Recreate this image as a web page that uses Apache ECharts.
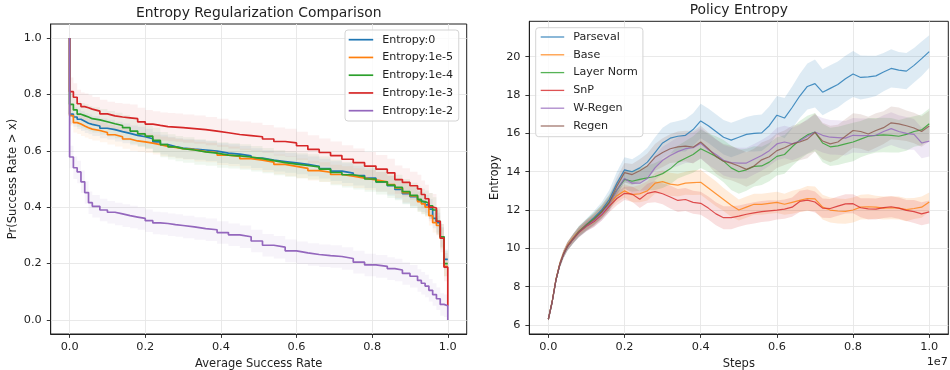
<!DOCTYPE html>
<html>
<head>
<meta charset="utf-8">
<script src="https://cdn.jsdelivr.net/npm/echarts@6/dist/echarts.min.js"></script>
<style>
  html, body { margin: 0; padding: 0; background: #ffffff; }
  #chart { width: 950px; height: 370px; }
</style>
</head>
<body>
<div id="chart"></div>
<script>
// ---------- Left panel: Pr(success rate > x) per entropy coefficient ----------
const SUCCESS_X = [0, 0, 0.01, 0.02, 0.03, 0.04, 0.05, 0.06, 0.08, 0.10,
  0.12, 0.14, 0.16, 0.18, 0.20, 0.22, 0.24, 0.26, 0.28, 0.30,
  0.33, 0.36, 0.39, 0.42, 0.45, 0.48, 0.51, 0.54, 0.57, 0.60,
  0.63, 0.66, 0.69, 0.72, 0.75, 0.78, 0.81, 0.84, 0.86, 0.88,
  0.90, 0.92, 0.93, 0.94, 0.95, 0.96, 0.97, 0.98, 0.99, 1.0];

const ENTROPY_0 = [1.0, 0.73, 0.72, 0.712, 0.705, 0.698, 0.694, 0.688, 0.68, 0.675,
  0.668, 0.662, 0.655, 0.65, 0.643, 0.632, 0.622, 0.615, 0.61, 0.606,
  0.603, 0.599, 0.592, 0.588, 0.582, 0.574, 0.567, 0.562, 0.557, 0.552,
  0.545, 0.537, 0.528, 0.521, 0.512, 0.503, 0.49, 0.476, 0.463, 0.448,
  0.437, 0.423, 0.418, 0.408, 0.393, 0.36, 0.345, 0.295, 0.215, 0.215];

const ENTROPY_1E5 = [1.0, 0.725, 0.7, 0.695, 0.688, 0.682, 0.677, 0.672, 0.665, 0.657,
  0.65, 0.642, 0.635, 0.632, 0.627, 0.622, 0.616, 0.612, 0.608, 0.604,
  0.597, 0.594, 0.585, 0.58, 0.572, 0.567, 0.56, 0.552, 0.545, 0.538,
  0.53, 0.524, 0.516, 0.51, 0.503, 0.497, 0.49, 0.48, 0.468, 0.452,
  0.44, 0.42, 0.412, 0.4, 0.37, 0.345, 0.335, 0.29, 0.19, 0.19];

const ENTROPY_1E4 = [1.0, 0.765, 0.745, 0.73, 0.725, 0.72, 0.714, 0.71, 0.703, 0.696,
  0.69, 0.682, 0.67, 0.66, 0.652, 0.637, 0.622, 0.614, 0.608, 0.603,
  0.596, 0.592, 0.585, 0.582, 0.578, 0.572, 0.565, 0.558, 0.553, 0.548,
  0.543, 0.535, 0.523, 0.515, 0.508, 0.5, 0.49, 0.478, 0.47, 0.455,
  0.442, 0.428, 0.42, 0.414, 0.405, 0.39, 0.35, 0.295, 0.2, 0.2];

const ENTROPY_1E3 = [1.0, 0.81, 0.79, 0.767, 0.757, 0.753, 0.748, 0.741, 0.731, 0.724,
  0.72, 0.717, 0.714, 0.703, 0.695, 0.69, 0.686, 0.684, 0.682, 0.679,
  0.675, 0.67, 0.664, 0.658, 0.654, 0.65, 0.642, 0.633, 0.628, 0.618,
  0.605, 0.594, 0.583, 0.57, 0.558, 0.546, 0.535, 0.522, 0.498, 0.488,
  0.476, 0.465, 0.445, 0.43, 0.4, 0.397, 0.35, 0.29, 0.187, 0.05];

const ENTROPY_1E2 = [1.0, 0.578, 0.54, 0.525, 0.49, 0.452, 0.416, 0.403, 0.39, 0.382,
  0.376, 0.37, 0.365, 0.36, 0.352, 0.344, 0.342, 0.338, 0.335, 0.33,
  0.324, 0.32, 0.31, 0.302, 0.295, 0.28, 0.265, 0.258, 0.245, 0.238,
  0.232, 0.228, 0.225, 0.218, 0.205, 0.195, 0.19, 0.182, 0.177, 0.165,
  0.155, 0.14, 0.13, 0.12, 0.105, 0.09, 0.075, 0.055, 0.05, 0.0];

const ENTROPY_LABELS = ['Entropy:0', 'Entropy:1e-5', 'Entropy:1e-4', 'Entropy:1e-3', 'Entropy:1e-2'];
// half-width of the shaded spread around each curve
const ENTROPY_SPREAD = [0.035, 0.035, 0.045, 0.05, 0.04];

const SUCCESS_TICKS = [0, 0.2, 0.4, 0.6, 0.8, 1.0];
const PROB_TICKS = [0, 0.2, 0.4, 0.6, 0.8, 1.0];

// ---------- Right panel: policy entropy over training ----------
const STEPS_M = [0, 0.1, 0.2, 0.3, 0.4, 0.5, 0.65, 0.8, 1.0, 1.2, 1.4, 1.6, 1.8,
  2.0, 2.2, 2.4, 2.6, 2.8, 3.0, 3.2, 3.4, 3.6, 3.8,
  4.0, 4.2, 4.4, 4.6, 4.8, 5.0, 5.2, 5.4, 5.6, 5.8,
  6.0, 6.2, 6.4, 6.6, 6.8, 7.0, 7.2, 7.4, 7.6, 7.8,
  8.0, 8.2, 8.4, 8.6, 8.8, 9.0, 9.2, 9.4, 9.6, 9.8, 10.0];

const PARSEVAL = [6.3, 7.2, 8.35, 9.15, 9.7, 10.1, 10.5, 10.88, 11.25, 11.6, 12.0, 12.55, 13.4,
  14.1, 14.0, 14.2, 14.5, 15.0, 15.5, 15.75, 15.85, 15.9, 16.2,
  16.65, 16.4, 16.1, 15.8, 15.65, 15.8, 15.95, 16.0, 16.03, 16.4,
  16.95, 16.8, 17.35, 17.95, 18.45, 18.6, 18.15, 18.35, 18.55, 18.85,
  19.1, 18.92, 18.95, 19.0, 19.2, 19.39, 19.3, 19.25, 19.55, 19.9, 20.27];

const BASE = [6.3, 7.25, 8.4, 9.2, 9.75, 10.15, 10.55, 10.9, 11.22, 11.5, 11.9, 12.35, 12.75,
  13.0, 12.8, 12.85, 13.0, 13.4, 13.48, 13.35, 13.3, 13.4, 13.43,
  13.45, 13.15, 12.85, 12.55, 12.25, 12.0, 12.15, 12.3, 12.3, 12.35,
  12.4, 12.3, 12.4, 12.5, 12.6, 12.58, 12.15, 12.0, 11.95, 11.93,
  12.0, 12.15, 12.17, 12.15, 12.1, 12.12, 12.1, 12.02, 12.08, 12.15, 12.42];

const LAYER_NORM = [6.3, 7.2, 8.35, 9.15, 9.7, 10.1, 10.5, 10.87, 11.22, 11.55, 11.9, 12.4, 13.05,
  13.6, 13.5, 13.6, 13.68, 13.75, 13.9, 14.15, 14.5, 14.7, 14.9,
  15.2, 15.0, 14.8, 14.55, 14.2, 14.0, 14.1, 14.28, 14.3, 14.5,
  14.8, 14.9, 15.3, 15.65, 15.92, 16.07, 15.5, 15.3, 15.35, 15.45,
  15.55, 15.7, 15.85, 15.9, 15.92, 15.9, 15.85, 15.95, 16.1, 16.18, 16.5];

const SNP = [6.3, 7.2, 8.35, 9.15, 9.7, 10.1, 10.48, 10.82, 11.15, 11.4, 11.75, 12.2, 12.6,
  12.87, 12.83, 12.56, 12.87, 12.96, 12.85, 12.68, 12.5, 12.55, 12.4,
  12.35, 12.1, 11.8, 11.6, 11.6, 11.68, 11.78, 11.85, 11.92, 11.96,
  12.0, 12.05, 12.15, 12.45, 12.52, 12.42, 12.1, 12.08, 12.2, 12.32,
  12.33, 12.12, 12.06, 12.05, 12.13, 12.17, 12.1, 11.98, 11.92, 11.8, 11.9];

const W_REGEN = [6.3, 7.2, 8.35, 9.15, 9.7, 10.1, 10.5, 10.85, 11.18, 11.45, 11.8, 12.3, 13.05,
  13.65, 13.4, 13.4, 13.65, 14.2, 14.6, 14.85, 15.05, 15.2, 15.25,
  15.48, 15.15, 14.9, 14.6, 14.48, 14.45, 14.45, 14.65, 14.85, 15.1,
  15.45, 15.55, 15.45, 15.6, 15.85, 16.07, 15.9, 15.8, 15.78, 15.75,
  15.9, 15.88, 15.88, 15.9, 16.1, 16.25, 16.1, 16.0, 15.95, 15.5, 15.6];

const REGEN = [6.3, 7.2, 8.35, 9.15, 9.7, 10.1, 10.5, 10.85, 11.2, 11.5, 11.9, 12.4, 13.25,
  13.95, 13.85, 14.05, 14.3, 14.75, 15.0, 15.2, 15.3, 15.34, 15.28,
  15.55, 15.2, 14.8, 14.55, 14.45, 14.3, 14.12, 14.3, 14.62, 14.78,
  15.1, 15.25, 15.45, 15.55, 15.7, 16.05, 15.6, 15.45, 15.55, 15.85,
  16.15, 16.1, 15.97, 16.15, 16.3, 16.55, 16.5, 16.4, 16.28, 16.1, 16.38];

// half-width of the shaded band around each run average
const PARSEVAL_SD = [0.08, 0.12, 0.15, 0.18, 0.2, 0.22, 0.25, 0.28, 0.3, 0.35, 0.4, 0.5, 0.6,
  0.65, 0.65, 0.7, 0.75, 0.8, 0.8, 0.8, 0.8, 0.85, 0.85,
  0.9, 0.9, 0.9, 0.9, 0.9, 0.9, 0.9, 0.95, 0.95, 1.0,
  1.0, 1.05, 1.1, 1.15, 1.2, 1.25, 1.2, 1.2, 1.2, 1.2,
  1.2, 1.15, 1.1, 1.05, 1.0, 1.0, 0.95, 0.95, 0.9, 0.9, 0.85];
const BASE_SD = [0.08, 0.1, 0.12, 0.15, 0.18, 0.2, 0.2, 0.22, 0.25, 0.28, 0.3, 0.32, 0.35,
  0.35, 0.4, 0.45, 0.5, 0.55, 0.6, 0.6, 0.6, 0.6, 0.65,
  0.65, 0.65, 0.65, 0.6, 0.6, 0.55, 0.55, 0.55, 0.55, 0.55,
  0.55, 0.55, 0.6, 0.6, 0.65, 0.65, 0.65, 0.65, 0.65, 0.65,
  0.65, 0.65, 0.65, 0.6, 0.6, 0.6, 0.6, 0.6, 0.55, 0.55, 0.5];
const LAYER_NORM_SD = [0.08, 0.12, 0.15, 0.18, 0.2, 0.22, 0.25, 0.28, 0.3, 0.33, 0.36, 0.4, 0.45,
  0.5, 0.55, 0.6, 0.65, 0.7, 0.75, 0.8, 0.85, 0.9, 0.95,
  1.0, 1.0, 1.05, 1.1, 1.15, 1.15, 1.1, 1.05, 1.0, 1.0,
  1.0, 1.0, 1.0, 1.0, 1.0, 1.0, 1.0, 1.0, 1.0, 1.0,
  1.0, 0.95, 0.95, 0.9, 0.9, 0.9, 0.85, 0.85, 0.8, 0.8, 0.8];
const SNP_SD = [0.08, 0.1, 0.12, 0.15, 0.18, 0.2, 0.2, 0.22, 0.25, 0.28, 0.3, 0.32, 0.35,
  0.35, 0.4, 0.45, 0.5, 0.55, 0.55, 0.6, 0.6, 0.6, 0.6,
  0.6, 0.6, 0.6, 0.6, 0.6, 0.55, 0.55, 0.55, 0.55, 0.55,
  0.5, 0.5, 0.5, 0.55, 0.55, 0.55, 0.5, 0.5, 0.5, 0.5,
  0.5, 0.5, 0.55, 0.55, 0.55, 0.55, 0.55, 0.55, 0.6, 0.6, 0.6];
const W_REGEN_SD = [0.08, 0.12, 0.15, 0.18, 0.2, 0.22, 0.25, 0.28, 0.3, 0.33, 0.36, 0.4, 0.45,
  0.5, 0.55, 0.6, 0.6, 0.65, 0.7, 0.7, 0.75, 0.75, 0.8,
  0.8, 0.8, 0.8, 0.8, 0.8, 0.8, 0.8, 0.8, 0.8, 0.8,
  0.85, 0.85, 0.85, 0.85, 0.9, 0.9, 0.9, 0.9, 0.9, 0.9,
  0.9, 0.9, 0.9, 0.85, 0.85, 0.85, 0.85, 0.85, 0.8, 0.8, 0.8];
const REGEN_SD = [0.08, 0.12, 0.15, 0.18, 0.2, 0.22, 0.25, 0.28, 0.3, 0.33, 0.36, 0.4, 0.45,
  0.5, 0.55, 0.6, 0.65, 0.7, 0.75, 0.75, 0.8, 0.8, 0.85,
  0.85, 0.85, 0.9, 0.9, 0.9, 0.9, 0.9, 0.9, 0.9, 0.9,
  0.9, 0.9, 0.95, 0.95, 1.0, 1.0, 0.95, 0.95, 0.9, 0.9,
  0.9, 0.9, 0.9, 0.9, 0.85, 0.85, 0.85, 0.8, 0.8, 0.8, 0.8];

const METHOD_LABELS = ['Parseval', 'Base', 'Layer Norm', 'SnP', 'W-Regen', 'Regen'];
const STEP_TICKS = [0, 2e6, 4e6, 6e6, 8e6, 1e7];
const ENTROPY_TICKS = [6, 8, 10, 12, 14, 16, 18, 20];

// ---------- styling ----------
const FONT = 'DejaVu Sans';
const INK = '#1f1f1f';
const GRID_LINE = '#e6e6e6';
const TAB = {
  blue: [31, 119, 180], orange: [255, 127, 14], green: [44, 160, 44],
  red: [214, 39, 40], purple: [148, 103, 189], brown: [140, 86, 75]
};
const rgba = (c, a) => `rgba(${c[0]},${c[1]},${c[2]},${a})`;

const LEFT_COLORS = [TAB.blue, TAB.orange, TAB.green, TAB.red, TAB.purple];
const RIGHT_COLORS = [TAB.blue, TAB.orange, TAB.green, TAB.red, TAB.purple, TAB.brown];

// Shaded band drawn as one polygon through the axis scales.
function bandSeries(xs, mean, half, fill, axisIndex, stepped) {
  const upper = [], lower = [];
  for (let i = 0; i < xs.length; i++) {
    const h = Array.isArray(half) ? half[i] : half;
    upper.push([xs[i], mean[i] + h]);
    lower.push([xs[i], mean[i] - h]);
    if (stepped && i < xs.length - 1) {
      upper.push([xs[i + 1], mean[i] + h]);
      lower.push([xs[i + 1], mean[i] - h]);
    }
  }
  const ring = upper.concat(lower.reverse());
  return {
    type: 'custom',
    xAxisIndex: axisIndex,
    yAxisIndex: axisIndex,
    silent: true,
    z: 1,
    data: [[xs[0], mean[0]]],
    renderItem: (params, api) => ({
      type: 'polygon',
      shape: { points: ring.map(p => api.coord(p)) },
      style: { fill: fill }
    })
  };
}

const tickLabel = { fontFamily: FONT, fontSize: 11.3, color: INK };
const axisName = { fontFamily: FONT, fontSize: 11.5, color: INK };

function valueAxis(gridIndex, min, max, ticks, fmt, margin, extra) {
  return Object.assign({
    type: 'value',
    gridIndex: gridIndex,
    min: min,
    max: max,
    axisLine: { show: true, onZero: false, lineStyle: { color: INK, width: 1 } },
    axisTick: { show: true, inside: false, length: 3.9, customValues: ticks, lineStyle: { color: INK, width: 0.9 } },
    axisLabel: Object.assign({ customValues: ticks, formatter: fmt, margin: margin, showMinLabel: true, showMaxLabel: true }, tickLabel),
    splitLine: { show: true, lineStyle: { color: GRID_LINE, width: 0.9 } },
    nameLocation: 'middle',
    nameTextStyle: axisName
  }, extra);
}

const leftData = [ENTROPY_0, ENTROPY_1E5, ENTROPY_1E4, ENTROPY_1E3, ENTROPY_1E2];
const rightData = [PARSEVAL, BASE, LAYER_NORM, SNP, W_REGEN, REGEN];
const rightSpread = [PARSEVAL_SD, BASE_SD, LAYER_NORM_SD, SNP_SD, W_REGEN_SD, REGEN_SD];
const stepsAbs = STEPS_M.map(m => m * 1e6);

const series = [];
leftData.forEach((vals, k) => {
  series.push(bandSeries(SUCCESS_X, vals, ENTROPY_SPREAD[k], rgba(LEFT_COLORS[k], 0.07), 0, true));
});
leftData.forEach((vals, k) => {
  series.push({
    name: ENTROPY_LABELS[k],
    type: 'line',
    xAxisIndex: 0, yAxisIndex: 0,
    step: 'end',
    showSymbol: false,
    z: 3,
    color: rgba(LEFT_COLORS[k], 1),
    lineStyle: { width: 1.7 },
    data: SUCCESS_X.map((x, i) => [x, vals[i]])
  });
});
rightData.forEach((vals, k) => {
  series.push(bandSeries(stepsAbs, vals, rightSpread[k], rgba(RIGHT_COLORS[k], 0.15), 1, false));
});
rightData.forEach((vals, k) => {
  series.push({
    name: METHOD_LABELS[k],
    type: 'line',
    xAxisIndex: 1, yAxisIndex: 1,
    showSymbol: false,
    z: 3,
    color: rgba(RIGHT_COLORS[k], 0.8),
    lineStyle: { width: 1.2 },
    data: stepsAbs.map((x, i) => [x, vals[i]])
  });
});

const legendBase = {
  orient: 'vertical',
  align: 'left',
  icon: 'rect',
  itemHeight: 1.7,
  backgroundColor: 'rgba(255,255,255,0.8)',
  borderColor: '#d4d4d4',
  borderWidth: 1,
  borderRadius: 3,
  textStyle: { fontFamily: FONT, fontSize: 11.1, color: INK, lineHeight: 14, padding: [0, 0, 0, 4] },
  selectedMode: false
};

const titleText = { fontFamily: FONT, fontSize: 13.9, fontWeight: 'normal', color: INK };

const option = {
  animation: false,
  backgroundColor: '#ffffff',
  title: [
    { text: 'Entropy Regularization Comparison', left: 258.7, top: 6.5, textAlign: 'center', padding: 0, textStyle: titleText },
    { text: 'Policy Entropy', left: 738.8, top: 3.5, textAlign: 'center', padding: 0, textStyle: titleText }
  ],
  grid: [
    { left: 50.7, top: 24, width: 416, height: 310, outerBoundsMode: 'none', containLabel: false,
      show: true, borderColor: INK, borderWidth: 1, backgroundColor: 'transparent' },
    { left: 529.3, top: 21.3, width: 419, height: 312.7, outerBoundsMode: 'none', containLabel: false,
      show: true, borderColor: INK, borderWidth: 1, backgroundColor: 'transparent' }
  ],
  xAxis: [
    valueAxis(0, -0.05, 1.05, SUCCESS_TICKS, v => v.toFixed(1), 7.8,
      { name: 'Average Success Rate', nameGap: 23 }),
    valueAxis(1, -5e5, 1.05e7, STEP_TICKS, v => (v / 1e7).toFixed(1), 7.8,
      { name: 'Steps', nameGap: 23 })
  ],
  yAxis: [
    valueAxis(0, -0.05, 1.05, PROB_TICKS, v => v.toFixed(1), 9,
      { name: 'Pr(Success Rate > x)', nameGap: 32, nameRotate: 90 }),
    valueAxis(1, 5.53, 21.85, ENTROPY_TICKS, v => String(v), 8.8,
      { name: 'Entropy', nameGap: 28, nameRotate: 90 })
  ],
  legend: [
    Object.assign({}, legendBase, {
      data: ENTROPY_LABELS, left: 345, top: 30, itemWidth: 24.5, itemGap: 3.75,
      padding: [2.7, 5.6, 3.3, 3.7]
    }),
    Object.assign({}, legendBase, {
      data: METHOD_LABELS, left: 535.7, top: 27.7, itemWidth: 23.5, itemGap: 3.8,
      itemHeight: 1.3,
      padding: [2.3, 5, 3.7, 5]
    })
  ],
  graphic: [
    { type: 'text', x: 948, y: 362, silent: true,
      style: { text: '1e7', fontFamily: FONT, fontSize: 11.3, fill: INK, align: 'right', verticalAlign: 'middle' } }
  ],
  series: series
};

const chart = echarts.init(document.getElementById('chart'), null, { renderer: 'canvas' });
chart.setOption(option);
</script>
</body>
</html>
